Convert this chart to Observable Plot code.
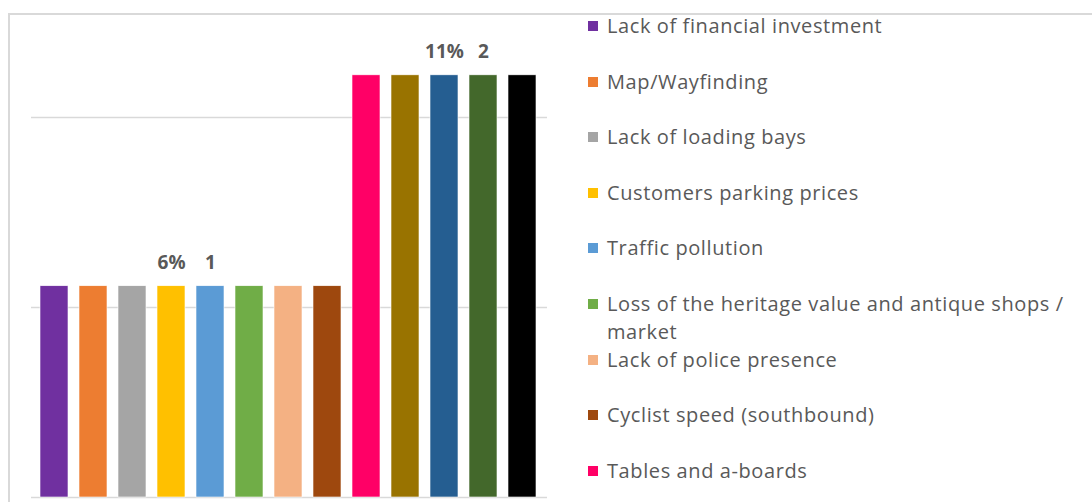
<!DOCTYPE html>
<html>
<head>
<meta charset="utf-8">
<script src="https://cdn.jsdelivr.net/npm/d3@7"></script>
<script src="https://cdn.jsdelivr.net/npm/@observablehq/plot@0.6"></script>
<style>
  html, body { margin: 0; padding: 0; background: #fff; }
  #wrap { position: relative; width: 1092px; height: 502px; overflow: hidden; font-family: "Open Sans", sans-serif; }
  #frame { position: absolute; left: 8px; top: 13px; width: 1200px; height: 600px; border-top: 2px solid #d9d9d9; border-left: 2px solid #d9d9d9; }
  #chart { position: absolute; left: 0; top: 0; }
  #legend { position: absolute; left: 588px; top: 0; width: 500px; }
  .item { position: absolute; left: 0; display: flex; align-items: flex-start; }
  .sw { width: 10px; height: 10px; margin-top: 9px; margin-right: 9px; flex: none; }
  .lbl { color: #595959; font-size: 20px; letter-spacing: 0.6px; line-height: 28px; width: 476px; }
</style>
</head>
<body>
<div id="wrap">
  <div id="frame"></div>
  <div id="chart"></div>
  <div id="legend"></div>
</div>
<script>
const categories = [
  "Lack of financial investment",
  "Map/Wayfinding",
  "Lack of loading bays",
  "Customers parking prices",
  "Traffic pollution",
  "Loss of the heritage value and antique shops / market",
  "Lack of police presence",
  "Cyclist speed (southbound)",
  "Tables and a-boards",
  "Category 10",
  "Category 11",
  "Category 12",
  "Category 13"
];
const counts = [1, 1, 1, 1, 1, 1, 1, 1, 2, 2, 2, 2, 2];
const percents = [5.56, 5.56, 5.56, 5.56, 5.56, 5.56, 5.56, 5.56, 11.11, 11.11, 11.11, 11.11, 11.11];
const colors = ["#7030A0", "#ED7D31", "#A5A5A5", "#FFC000", "#5B9BD5", "#70AD47", "#F4B183", "#9E480E",
                "#FF0066", "#997300", "#255E91", "#43682B", "#000000"];
const gridTicks = [0, 5, 10];
const legendShown = categories.slice(0, 9);
const dataLabels = [
  {category: "Customers parking prices", value: 5.56, text: "6%"},
  {category: "Traffic pollution", value: 5.56, text: "1"},
  {category: "Category 11", value: 11.11, text: "11%"},
  {category: "Category 12", value: 11.11, text: "2"}
];

const data = categories.map((c, i) => ({category: c, count: counts[i], pct: percents[i]}));

const plot = Plot.plot({
  width: 560,
  height: 502,
  marginTop: 41,
  marginBottom: 5,
  marginLeft: 33,
  marginRight: 16,
  x: {domain: categories, paddingInner: 0.28, paddingOuter: 0.14, axis: null},
  y: {domain: [0, 12], axis: null},
  color: {domain: categories, range: colors},
  marks: [
    Plot.ruleY(gridTicks, {stroke: "#d9d9d9", strokeWidth: 1.3, strokeOpacity: 1, insetLeft: -2, insetRight: -3}),
    Plot.barY(data, {x: "category", y: "pct", fill: "category", stroke: "#ffffff", strokeWidth: 0.6}),
    Plot.text(dataLabels, {x: "category", y: "value", text: "text", dy: -23, fill: "#595959",
      fontSize: 19, fontWeight: "bold", fontFamily: "Open Sans", letterSpacing: 0.5})
  ]
});
document.getElementById("chart").appendChild(plot);

const legend = document.getElementById("legend");
legendShown.forEach((c, i) => {
  const item = document.createElement("div");
  item.className = "item";
  item.style.top = (12 + 55.6 * i) + "px";
  const sw = document.createElement("div");
  sw.className = "sw";
  sw.style.background = colors[i];
  const lbl = document.createElement("div");
  lbl.className = "lbl";
  lbl.textContent = c;
  item.appendChild(sw);
  item.appendChild(lbl);
  legend.appendChild(item);
});
</script>
</body>
</html>
